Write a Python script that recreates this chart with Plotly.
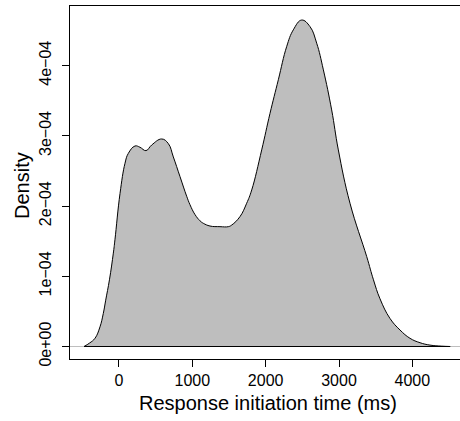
import plotly.graph_objects as go

# Kernel density estimate (x in ms, density)
time_ms = [-477, -400, -327, -259, -214, -181, -130, -77, -55, 14, 82, 127, 218, 286,
           368, 446, 582, 673, 741, 832, 923, 968, 1036, 1105, 1150, 1241, 1377,
           1491, 1537, 1650, 1741, 1810, 1946, 2059, 2173, 2286, 2377, 2491, 2605,
           2696, 2787, 2900, 2991, 3150, 3378, 3470, 3559, 3695, 3832, 3968, 4105,
           4241, 4400, 4516]
density = [0.0, 0.05e-4, 0.117e-4, 0.28e-4, 0.47e-4, 0.66e-4, 0.95e-4, 1.33e-4, 1.52e-4,
           2.18e-4, 2.61e-4, 2.75e-4, 2.856e-4, 2.838e-4, 2.79e-4, 2.87e-4, 2.956e-4,
           2.89e-4, 2.70e-4, 2.42e-4, 2.14e-4, 2.02e-4, 1.88e-4, 1.79e-4, 1.755e-4,
           1.716e-4, 1.707e-4, 1.707e-4, 1.73e-4, 1.85e-4, 2.04e-4, 2.23e-4, 2.80e-4,
           3.32e-4, 3.80e-4, 4.27e-4, 4.51e-4, 4.65e-4, 4.556e-4, 4.32e-4, 3.94e-4,
           3.37e-4, 2.80e-4, 2.04e-4, 1.28e-4, 0.95e-4, 0.68e-4, 0.40e-4, 0.235e-4,
           0.117e-4, 0.054e-4, 0.02e-4, 0.005e-4, 0.0]

x_ticks = [0, 1000, 2000, 3000, 4000]
x_ticklabels = ["0", "1000", "2000", "3000", "4000"]
y_ticks = [0, 1e-4, 2e-4, 3e-4, 4e-4]
y_ticklabels = ["0e+00", "1e\u221204", "2e\u221204", "3e\u221204", "4e\u221204"]

x_title = "Response initiation time (ms)"
y_title = "Density"

fig = go.Figure()
fig.add_trace(go.Scatter(
    x=time_ms, y=density, mode="lines", fill="tozeroy",
    fillcolor="#BEBEBE", line=dict(color="black", width=1, shape="spline", smoothing=1.2),
    hoverinfo="skip", showlegend=False))
# polygon base edge
fig.add_trace(go.Scatter(
    x=[time_ms[0], time_ms[-1]], y=[density[0], density[-1]], mode="lines",
    line=dict(color="black", width=1), hoverinfo="skip", showlegend=False))

FONT = "Liberation Sans, Arial, sans-serif"

fig.update_layout(
    width=460, height=421,
    margin=dict(l=70, r=0, t=6, b=62),
    paper_bgcolor="white", plot_bgcolor="white",
    font=dict(family=FONT, size=16, color="black"),
    xaxis=dict(range=[-668, 4650], tickvals=x_ticks, ticktext=x_ticklabels,
               showgrid=False, zeroline=False, showline=True, mirror=True,
               linecolor="black", linewidth=1, ticks="outside", ticklen=7,
               tickcolor="black", tickwidth=1, tickfont=dict(size=16),
               ticklabelstandoff=0),
    yaxis=dict(range=[-0.178e-4, 4.85e-4], tickvals=y_ticks, ticktext=y_ticklabels,
               showgrid=False, zeroline=False, showline=True, mirror=False,
               linecolor="black", linewidth=1, ticks="outside", ticklen=7,
               tickcolor="black", tickwidth=1, tickfont=dict(size=16),
               tickangle=-90, ticklabelstandoff=5),
    shapes=[dict(type="line", xref="paper", yref="y", x0=0, x1=1, y0=0, y1=0,
                 line=dict(color="#BEBEBE", width=1), layer="below")],
    annotations=[
        dict(text=x_title, xref="paper", yref="paper", x=(268 - 70) / 390,
             y=(359 - 403) / 353, xanchor="center", yanchor="middle",
             showarrow=False, font=dict(size=20, family=FONT)),
        dict(text=y_title, xref="paper", yref="paper", x=(21.5 - 70) / 390,
             y=(359 - 185.5) / 353, xanchor="center", yanchor="middle",
             textangle=-90, showarrow=False, font=dict(size=20, family=FONT)),
    ],
)

fig.write_html("out.html")
